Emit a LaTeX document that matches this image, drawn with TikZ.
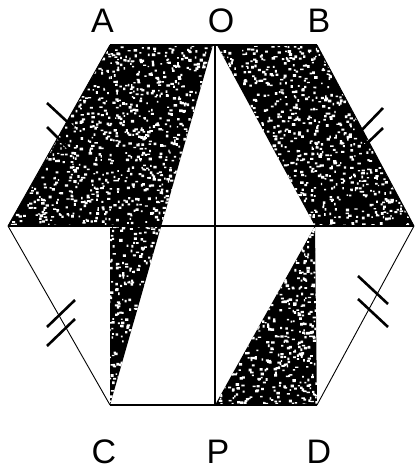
\documentclass[tikz,border=0pt]{standalone}
\usepackage{fontspec}
\setmainfont{Liberation Sans}
\begin{document}
\begin{tikzpicture}[x=1pt,y=-1pt,
  lbl/.style={font=\fontsize{34}{40}\selectfont, inner sep=0pt, anchor=base},
  thinedge/.style={line width=0.9pt},
  thickedge/.style={line width=1.8pt},
  midline/.style={line width=1.5pt},
  tickmark/.style={line width=2.6pt},
  shade/.style={fill=black}]
\useasboundingbox (0,0) rectangle (415,469);
% points
\coordinate (A) at (110,45);
\coordinate (Ot) at (215,45);
\coordinate (Ol) at (213,45);
\coordinate (Or) at (217,45);
\coordinate (B) at (317,45);
\coordinate (R) at (414,226);
\coordinate (D) at (317,405);
\coordinate (P) at (215,405);
\coordinate (C) at (110,405);
\coordinate (L) at (8,226);
\coordinate (X) at (315,226);
\coordinate (Cm) at (110,226);
% shaded regions
\fill[shade] (A) -- (Ol) -- (C) -- (Cm) -- (L) -- cycle;
\fill[shade] (Or) -- (B) -- (R) -- (X) -- cycle;
\fill[shade] (X) -- (D) -- (P) -- cycle;
% speckles
\begin{scope}
  \clip (A) -- (Ol) -- (C) -- (Cm) -- (L) -- cycle
        (Or) -- (B) -- (R) -- (X) -- cycle
        (X) -- (D) -- (P) -- cycle;
  \pgfmathsetseed{7}
  \fill[white] \foreach \i in {1,...,4800} {({8+406*rnd},{45+360*rnd}) rectangle ++({1.3+2.2*rnd},{1.3+1.5*rnd})};
\end{scope}
% lines
\draw[thickedge] (A) -- (B);
\draw[thickedge] (C) -- (D);
\draw[thinedge] (L) -- (A);
\draw[thinedge] (B) -- (R);
\draw[thinedge] (L) -- (C);
\draw[thinedge] (R) -- (D);
\draw[midline] (L) -- (R);
\draw[line width=1.2pt] (Ot) -- (P);
% tick marks
\draw[tickmark] (47,103) -- (74,128);
\draw[tickmark] (47,127) -- (70,150);
\draw[tickmark] (383,108) -- (356,136);
\draw[tickmark] (383,128) -- (357,153);
\draw[tickmark] (75,300) -- (47,327);
\draw[tickmark] (75,319) -- (47,346);
\draw[tickmark] (358,276) -- (388,304);
\draw[tickmark] (358,299) -- (388,327);
% labels
\node[lbl] (lA) at (102.5,32) {A};
\node[lbl] (lO) at (221,32) {O};
\node[lbl] (lB) at (319,32) {B};
\node[lbl] (lC) at (104,463) {C};
\node[lbl] (lP) at (218,463) {P};
\node[lbl] (lD) at (319,463) {D};
\end{tikzpicture}
\end{document}
